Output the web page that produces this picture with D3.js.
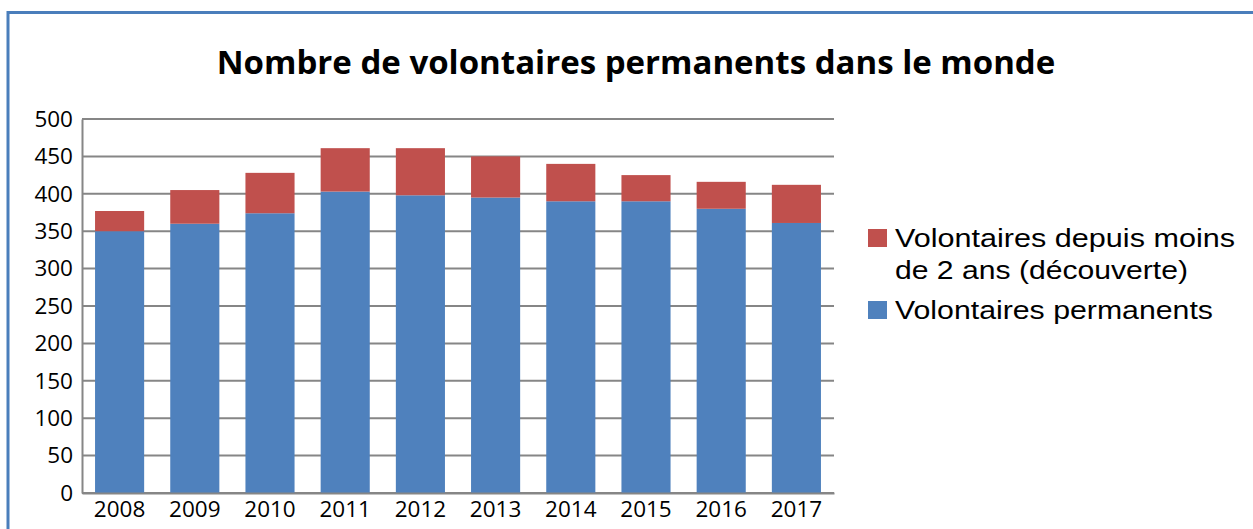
<!DOCTYPE html>
<html>
<head>
<meta charset="utf-8">
<script src="https://cdn.jsdelivr.net/npm/d3@7"></script>
<style>
  body { margin: 0; background: #fff; }
  svg { display: block; }
</style>
</head>
<body>
<svg id="canvas"></svg>
<script>
const years = ["2008", "2009", "2010", "2011", "2012", "2013", "2014", "2015", "2016", "2017"]
const permanents = [350, 360, 374, 403, 398, 395, 390, 390, 380, 361]
const decouverte = [27, 45, 54, 58, 63, 55, 50, 35, 36, 51]
const yTicks = [0, 50, 100, 150, 200, 250, 300, 350, 400, 450, 500]
const seriesNames = ["Volontaires permanents", "Volontaires depuis moins de 2 ans (découverte)"]
const title = "Nombre de volontaires permanents dans le monde"

const width = 1253
const height = 529
const margin = { left: 82, right: 420, top: 119, bottom: 36 }

const COLORS = {
    blue: "#4f81bd",
    red: "#c0504d",
    grid: "#868686",
    frame: "#4a7ebb"
}

let svg = d3.select("#canvas")
    .attr("width", width)
    .attr("height", height)

// outer frame (runs off the right and bottom edges)
svg.append("path")
    .attr("d", "M8," + height + " V12.5 H" + width)
    .attr("fill", "none")
    .attr("stroke", COLORS.frame)
    .attr("stroke-width", 3)

const x = d3.scaleBand()
    .domain(years)
    .range([margin.left, width - margin.right + 1])
    .paddingInner(0.347)
    .paddingOuter(0.1735)

const y = d3.scaleLinear()
    .domain([0, 500])
    .range([height - margin.bottom, margin.top])

// gridlines
svg.append("g")
    .selectAll("line")
    .data(yTicks)
    .enter()
    .append("line")
    .attr("x1", margin.left)
    .attr("x2", width - margin.right + 1)
    .attr("y1", d => y(d))
    .attr("y2", d => y(d))
    .attr("stroke", COLORS.grid)
    .attr("stroke-width", 2)

// stacked bars
const table = years.map((yr, i) => ({ year: yr, perm: permanents[i], dec: decouverte[i] }))
const stack = d3.stack().keys(["perm", "dec"])(table)
const fills = [COLORS.blue, COLORS.red]

svg.append("g")
    .selectAll("g")
    .data(stack)
    .enter()
    .append("g")
    .attr("fill", (d, i) => fills[i])
    .selectAll("rect")
    .data(d => d)
    .enter()
    .append("rect")
    .attr("x", d => x(d.data.year))
    .attr("width", x.bandwidth())
    .attr("y", d => y(d[1]))
    .attr("height", d => y(d[0]) - y(d[1]))

// axes
let yAxis = d3.axisLeft(y).tickValues(yTicks).tickSize(0).tickPadding(9)
svg.append("g")
    .attr("id", "y-axis")
    .attr("transform", "translate(" + margin.left + ",0)")
    .call(yAxis)
    .call(g => g.select(".domain").attr("stroke", COLORS.grid).attr("stroke-width", 2))
    .selectAll("text")
    .style("font-family", "'Open Sans', sans-serif")
    .style("font-size", "22.5px")
    .attr("fill", "#000")

let xAxis = d3.axisBottom(x).tickSize(0).tickPadding(8)
svg.append("g")
    .attr("id", "x-axis")
    .attr("transform", "translate(0," + y(0) + ")")
    .call(xAxis)
    .call(g => g.select(".domain").attr("stroke", COLORS.grid).attr("stroke-width", 2))
    .selectAll("text")
    .style("font-family", "'Open Sans', sans-serif")
    .style("font-size", "22.5px")
    .attr("fill", "#000")

// title, scaled to span the same width as the original
let titleText = svg.append("text")
    .attr("x", 636)
    .attr("y", 74)
    .attr("text-anchor", "middle")
    .style("font-family", "'Open Sans', sans-serif")
    .style("font-weight", "bold")
    .style("font-size", "34px")
    .text(title)
let tw = titleText.node().getComputedTextLength()
titleText.style("font-size", (34 * 839 / tw) + "px")

// legend (text stretched to the widths seen in the original)
const legendItems = [
    { color: COLORS.red, lines: ["Volontaires depuis moins", "de 2 ans (découverte)"], widths: [340, 293], top: 229 },
    { color: COLORS.blue, lines: ["Volontaires permanents"], widths: [318], top: 301 }
]

let legend = svg.append("g").attr("id", "legend")
legendItems.forEach(item => {
    legend.append("rect")
        .attr("x", 868)
        .attr("y", item.top)
        .attr("width", 19)
        .attr("height", 18)
        .attr("fill", item.color)
    item.lines.forEach((line, i) => {
        legend.append("text")
            .attr("x", 895)
            .attr("y", item.top + 18 + i * 32)
            .attr("textLength", item.widths[i])
            .attr("lengthAdjust", "spacingAndGlyphs")
            .style("font-family", "'Liberation Sans', Arial, sans-serif")
            .style("font-size", "26px")
            .attr("fill", "#000")
            .text(line)
    })
})
</script>
</body>
</html>
